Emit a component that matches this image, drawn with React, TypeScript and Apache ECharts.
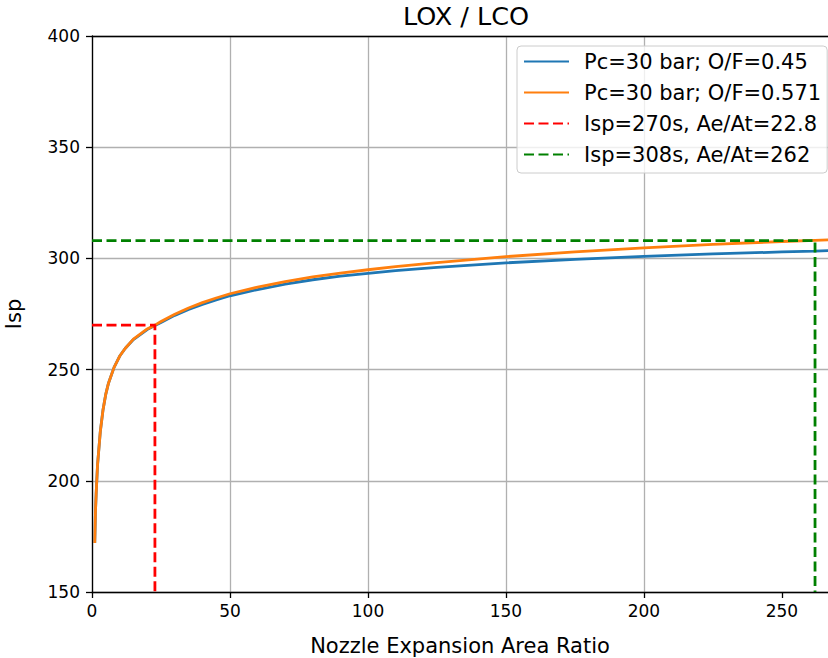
import React, { useEffect, useRef } from "react";
import * as echarts from "echarts";

const areaRatio = [1, 1.25, 1.5, 2, 3, 4, 5, 6, 8, 10, 12, 15, 20, 22.8, 25, 30, 35, 40, 45, 50, 60, 70, 80, 90, 100, 110, 125, 150, 175, 200, 225, 250, 262, 267];
const ispOF045 = [172, 186, 194, 207, 222, 232, 239, 244, 251, 256, 259.5, 263.5, 268, 269.8, 271.2, 274.4, 277.0, 279.3, 281.3, 283.2, 286.0, 288.4, 290.4, 292.0, 293.3, 294.5, 296.0, 298.0, 299.6, 300.9, 302.0, 302.9, 303.3, 303.5];
const ispOF0571 = [172, 186, 194, 207, 222, 232, 239, 244, 251, 256, 259.5, 263.7, 268.3, 270, 271.6, 274.9, 277.7, 280.1, 282.2, 284.1, 287.1, 289.6, 291.7, 293.4, 294.9, 296.3, 298.1, 300.8, 302.9, 304.7, 306.3, 307.6, 308.1, 308.3];
const ref270 = { isp: 270, ratio: 22.8 };
const ref308 = { isp: 308, ratio: 262 };
const xTicks = [0, 50, 100, 150, 200, 250];
const seriesNames = ["Pc=30 bar; O/F=0.45", "Pc=30 bar; O/F=0.571", "Isp=270s, Ae/At=22.8", "Isp=308s, Ae/At=262"];

const FONT = "DejaVu Sans";

export default function App() {
  const ref = useRef<HTMLDivElement>(null);
  useEffect(() => {
    const chart = echarts.init(ref.current!, null, { renderer: "svg" });
    const xMin = 0;
    const xMax = 266.7;
    const yMin = 150;
    const axisLineStyle = { color: "#000", width: 1.3 };
    const lineSeries = (name: string, data: number[][], color: string, dashed: boolean) => ({
      name,
      type: "line",
      data,
      symbol: "none",
      showSymbol: false,
      lineStyle: dashed ? { color, width: 2.8, type: [10, 4.5] } : { color, width: 2.8 },
      itemStyle: { color },
    });
    chart.setOption({
      animation: false,
      textStyle: { fontFamily: FONT },
      title: {
        text: "LOX / LCO",
        left: 461,
        textAlign: "center",
        top: -2,
        textStyle: { fontFamily: FONT, fontSize: 25.5, fontWeight: "normal", color: "#000" },
      },
      grid: { left: 92, right: 0, top: 36, bottom: 66, outerBoundsMode: "none", containLabel: false },
      legend: {
        orient: "vertical",
        left: 517,
        top: 46,
        padding: [5, 6, 8, 6],
        itemWidth: 45,
        itemHeight: 21,
        itemGap: 10,
        backgroundColor: "rgba(255,255,255,0.8)",
        borderColor: "#cccccc",
        borderWidth: 1,
        borderRadius: 4,
        itemStyle: { color: "transparent", borderColor: "transparent", borderWidth: 0, opacity: 0 },
        textStyle: { fontFamily: FONT, fontSize: 21, lineHeight: 21, color: "#000", padding: [0, 0, 0, 10] },
        data: seriesNames,
      },
      xAxis: [
        {
          type: "value",
          min: xMin,
          max: xMax,
          interval: 50,
          name: "Nozzle Expansion Area Ratio",
          nameLocation: "middle",
          nameGap: 43,
          nameTextStyle: { fontFamily: FONT, fontSize: 21, color: "#000" },
          axisLine: { show: true, onZero: false, lineStyle: axisLineStyle },
          axisTick: { show: true, length: 6, inside: false, lineStyle: axisLineStyle, customValues: xTicks },
          axisLabel: { fontFamily: FONT, fontSize: 17, color: "#000", margin: 10, customValues: xTicks },
          splitLine: { show: true, showMaxLine: false, lineStyle: { color: "#b0b0b0", width: 1.3 } },
        },
        {
          type: "value",
          position: "top",
          min: xMin,
          max: xMax,
          axisLine: { show: true, onZero: false, lineStyle: axisLineStyle },
          axisTick: { show: false },
          axisLabel: { show: false },
          splitLine: { show: false },
        },
      ],
      yAxis: {
        type: "value",
        min: yMin,
        max: 400,
        interval: 50,
        name: "Isp",
        nameLocation: "middle",
        nameGap: 68,
        nameTextStyle: { fontFamily: FONT, fontSize: 21, color: "#000" },
        axisLine: { show: true, onZero: false, lineStyle: axisLineStyle },
        axisTick: { show: true, length: 6, lineStyle: axisLineStyle },
        axisLabel: { fontFamily: FONT, fontSize: 17, color: "#000", margin: 12 },
        splitLine: { show: true, lineStyle: { color: "#b0b0b0", width: 1.3 } },
      },
      series: [
        lineSeries(seriesNames[0], areaRatio.map((x, i) => [x, ispOF045[i]]), "#1f77b4", false),
        lineSeries(seriesNames[1], areaRatio.map((x, i) => [x, ispOF0571[i]]), "#ff7f0e", false),
        lineSeries(seriesNames[2], [[xMin, ref270.isp], [ref270.ratio, ref270.isp], [ref270.ratio, yMin]], "#ff0000", true),
        lineSeries(seriesNames[3], [[xMin, ref308.isp], [ref308.ratio, ref308.isp], [ref308.ratio, yMin]], "#008000", true),
      ],
    });
    return () => chart.dispose();
  }, []);
  return <div ref={ref} style={{ width: 828, height: 658, position: "absolute", left: 0, top: 0 }} />;
}
